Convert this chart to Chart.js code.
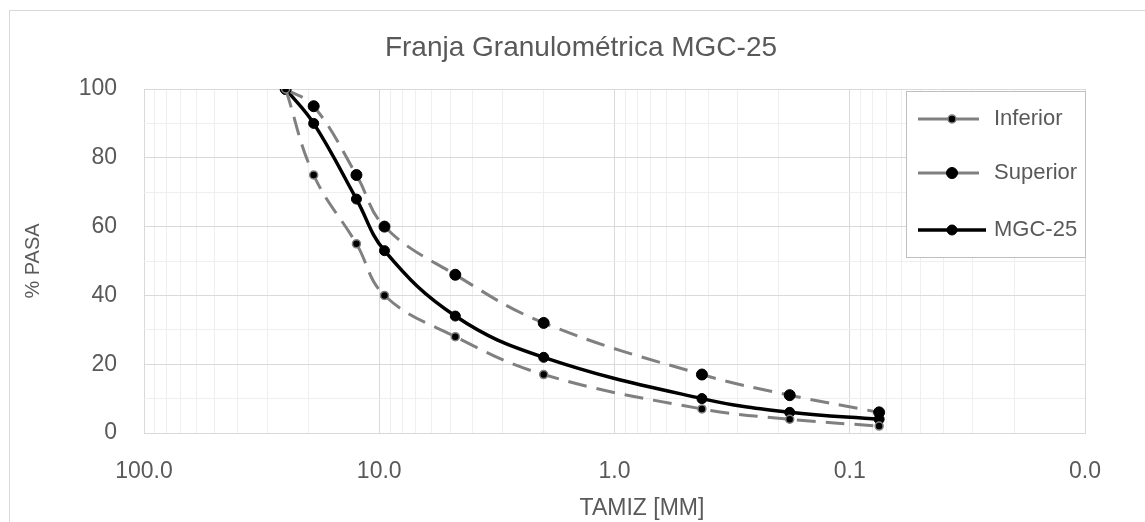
<!DOCTYPE html>
<html>
<head>
<meta charset="utf-8">
<script src="https://cdn.jsdelivr.net/npm/chart.js@4.4.1/dist/chart.umd.min.js"></script>
<style>
  html, body { margin: 0; padding: 0; background: #fff; overflow: hidden; }
</style>
</head>
<body>
<canvas id="chartGranulo" width="1145" height="522"></canvas>
<script>
// tamices (mm) y % que pasa
var tamices = [25, 19, 12.5, 9.5, 4.75, 2, 0.425, 0.18, 0.075]
var inferior = [100, 75, 55, 40, 28, 17, 7, 4, 2]
var superior = [100, 95, 75, 60, 46, 32, 17, 11, 6]
var mgc25 = [100, 90, 68, 53, 34, 22, 10, 6, 4]
var ticksY = [0, 20, 40, 60, 80, 100]

var titulo = 'Franja Granulométrica MGC-25'
var tituloX = 'TAMIZ [MM]'

function puntos(valores) {
    return tamices.map(function (t, i) { return { x: t, y: valores[i] } })
}

var fuente = 'Liberation Sans'
var gris = '#595959'

// marco exterior del grafico
var marco = {
    id: 'marco',
    beforeDraw: function (chart) {
        var ctx = chart.ctx
        ctx.save()
        ctx.fillStyle = '#fff'
        ctx.fillRect(0, 0, chart.width, chart.height)
        ctx.strokeStyle = '#d9d9d9'
        ctx.lineWidth = 1
        ctx.strokeRect(9.5, 10.5, chart.width, chart.height)
        ctx.restore()
    }
}

// titulos centrados como en el original (no sobre el area del grafico)
var titulos = {
    id: 'titulos',
    afterDraw: function (chart) {
        var ctx = chart.ctx
        ctx.save()
        ctx.fillStyle = gris
        ctx.textAlign = 'center'
        ctx.textBaseline = 'alphabetic'
        ctx.font = '28px ' + fuente
        ctx.fillText(titulo, 581, 56)
        ctx.font = '23px ' + fuente
        ctx.fillText(tituloX, 642, 515)
        ctx.restore()
    }
}

// leyenda dibujada dentro del area del grafico
var leyendaCaja = {
    id: 'leyendaCaja',
    afterDraw: function (chart) {
        var ctx = chart.ctx
        var x0 = 906, y0 = 91, w = 179, h = 166
        var filas = [119, 173, 230]
        ctx.save()
        ctx.fillStyle = '#fff'
        ctx.fillRect(x0, y0, w, h)
        ctx.strokeStyle = '#bfbfbf'
        ctx.lineWidth = 1
        ctx.strokeRect(x0 + 0.5, y0 + 0.5, w, h)
        chart.data.datasets.forEach(function (ds, i) {
            var y = filas[i]
            ctx.strokeStyle = ds.borderColor
            ctx.lineWidth = ds.borderWidth
            ctx.setLineDash([])
            ctx.beginPath()
            ctx.moveTo(918, y)
            ctx.lineTo(i == 2 ? 986 : 979, y)
            ctx.stroke()
            ctx.beginPath()
            ctx.arc(952, y, ds.pointRadius, 0, Math.PI * 2)
            ctx.fillStyle = ds.pointBackgroundColor
            ctx.fill()
            ctx.lineWidth = ds.pointBorderWidth
            ctx.strokeStyle = ds.pointBorderColor
            ctx.stroke()
            ctx.fillStyle = gris
            ctx.font = '22px ' + fuente
            ctx.textBaseline = 'middle'
            ctx.fillText(ds.label, 994, y)
        })
        ctx.restore()
    }
}

var ctxG = document.getElementById('chartGranulo')

var chartGranulo = new Chart(ctxG, {
    type: 'line',
    data: {
        datasets: [{
            label: 'Inferior',
            data: puntos(inferior),
            borderColor: '#808080',
            borderWidth: 3,
            borderDash: [19, 10],
            pointRadius: 4,
            pointBackgroundColor: '#000',
            pointBorderColor: '#808080',
            pointBorderWidth: 1.5,
            tension: 0.4
        }, {
            label: 'Superior',
            data: puntos(superior),
            borderColor: '#808080',
            borderWidth: 3,
            borderDash: [19, 10],
            pointRadius: 5.5,
            pointBackgroundColor: '#000',
            pointBorderColor: '#000',
            pointBorderWidth: 1,
            tension: 0.4
        }, {
            label: 'MGC-25',
            data: puntos(mgc25),
            borderColor: '#000',
            borderWidth: 3.5,
            pointRadius: 5,
            pointBackgroundColor: '#000',
            pointBorderColor: '#000',
            pointBorderWidth: 1,
            tension: 0.4
        }]
    },
    options: {
        responsive: false,
        animation: false,
        layout: {
            padding: { left: 0, right: 60, top: 89, bottom: 0 }
        },
        plugins: {
            legend: { display: false },
            tooltip: { enabled: false },
            title: { display: false }
        },
        scales: {
            x: {
                type: 'logarithmic',
                reverse: true,
                min: 0.01,
                max: 100,
                afterBuildTicks: function (axis) {
                    var t = []
                    for (var e = -2; e <= 2; e++) {
                        for (var m = 1; m <= 9; m++) {
                            var v = m * Math.pow(10, e)
                            if (v <= 100.0001) t.push({ value: v })
                        }
                    }
                    axis.ticks = t
                },
                afterFit: function (axis) { axis.height = 89 },
                ticks: {
                    autoSkip: false,
                    maxRotation: 0,
                    color: gris,
                    font: { family: fuente, size: 23 },
                    padding: 25,
                    callback: function (v) {
                        var l = Math.log10(v)
                        if (Math.abs(l - Math.round(l)) > 1e-6) return ''
                        return v.toFixed(1)
                    }
                },
                grid: {
                    drawTicks: false,
                    color: function (c) {
                        var l = Math.log10(c.tick.value)
                        return Math.abs(l - Math.round(l)) < 1e-6 ? '#d9d9d9' : '#efefef'
                    },
                    lineWidth: 1
                },
                border: { color: '#d9d9d9' },
                title: { display: false }
            },
            y: {
                min: 0,
                max: 100,
                afterBuildTicks: function (axis) {
                    var t = []
                    for (var v = 0; v <= 100; v += 10) t.push({ value: v })
                    axis.ticks = t
                },
                afterFit: function (axis) { axis.width = 144 },
                ticks: {
                    autoSkip: false,
                    color: gris,
                    font: { family: fuente, size: 23 },
                    padding: 27,
                    callback: function (v) {
                        return ticksY.indexOf(v) >= 0 ? v : ''
                    }
                },
                grid: {
                    drawTicks: false,
                    color: function (c) {
                        return ticksY.indexOf(c.tick.value) >= 0 ? '#d9d9d9' : '#efefef'
                    }
                },
                border: { display: false },
                title: {
                    display: true,
                    text: '% PASA',
                    color: gris,
                    font: { family: fuente, size: 20 },
                    padding: { top: 21, bottom: 0 }
                }
            }
        }
    },
    plugins: [marco, titulos, leyendaCaja]
})
</script>
</body>
</html>
